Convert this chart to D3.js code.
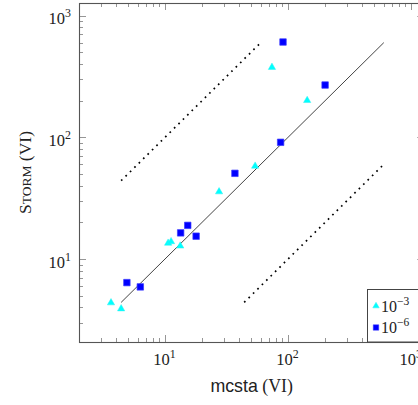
<!DOCTYPE html>
<html><head><meta charset="utf-8">
<script src="https://cdn.jsdelivr.net/npm/d3@7"></script>
<style>
html,body{margin:0;padding:0;background:#fff;}
svg{display:block;}
</style></head>
<body>
<svg id="chart" width="418" height="405"></svg>
<script>
// ---- data ----
const seriesNames = ["10^{-3}", "10^{-6}"];
const tri_x = [3.64, 4.4, 10.6, 11.2, 13.3, 27.5, 54, 143, 74];
const tri_y = [4.37, 3.9, 13.5, 13.9, 12.8, 35.7, 58, 201, 376];
const sq_x = [4.9, 6.3, 13.4, 15.3, 17.9, 37, 87, 200, 91];
const sq_y = [6.4, 5.9, 16.4, 18.9, 15.4, 50.6, 91, 269, 607];
const diagLine = [[4.4, 4.4], [600, 600]];
const upperLine = [[4.4, 44], [60, 600]];
const lowerLine = [[44, 4.4], [600, 60]];
const xMajor = [1, 2, 3];   // exponents
const yMajor = [1, 2, 3];
const legendExps = ["\u22123", "\u22126"];
const xLabel = "mcsta";
const yLabel = "Storm";

// ---- layout ----
const L = 79, R = 424.3, T = 3, B = 342;
const x = d3.scaleLog().domain([2, 1280]).range([L, R]);
const y = d3.scaleLog().domain([2.08, 1270]).range([B, T]);

const svg = d3.select("#chart");
const serif = "'Liberation Serif', 'Times New Roman', serif";
const sans = "'Liberation Sans', Arial, sans-serif";
const FS = 16.5;

// ticks
function tickVals(dom) {
  const out = [];
  for (let e = 0; e <= 3; e++) for (let m = 1; m <= 9; m++) {
    const v = m * Math.pow(10, e);
    if (v >= dom[0] && v <= dom[1]) out.push({v, major: m === 1});
  }
  return out;
}
const tg = svg.append("g").attr("stroke", "#8a8a8a").attr("stroke-width", 0.9);
tickVals(x.domain()).forEach(t => {
  const len = t.major ? 7 : 4;
  const px = Math.round(x(t.v)) + 0.5;
  tg.append("line").attr("x1", px).attr("x2", px).attr("y1", B).attr("y2", B - len);
  tg.append("line").attr("x1", px).attr("x2", px).attr("y1", T).attr("y2", T + len);
});
tickVals(y.domain()).forEach(t => {
  const len = t.major ? 7 : 4;
  const py = Math.round(y(t.v)) + 0.5;
  tg.append("line").attr("x1", L).attr("x2", L + len).attr("y1", py).attr("y2", py);
  tg.append("line").attr("x1", R).attr("x2", R - len).attr("y1", py).attr("y2", py);
});

// frame
svg.append("rect").attr("x", L + 0.5).attr("y", T + 0.5)
  .attr("width", R - L).attr("height", B - T)
  .attr("fill", "none").attr("stroke", "#555").attr("stroke-width", 1.1);

// tick labels
function powLabel(sel, exp, size) {
  sel.append("tspan").text("10");
  sel.append("tspan").attr("dy", -size * 0.42).attr("font-size", size * 0.72).text(exp);
}
xMajor.forEach(e => {
  const v = Math.pow(10, e);
  const t = svg.append("text").attr("x", x(v) - 0.5).attr("y", 365)
    .attr("text-anchor", "middle").attr("font-family", serif).attr("font-size", FS).attr("fill", "#222");
  powLabel(t, String(e), FS);
});
yMajor.forEach(e => {
  const v = Math.pow(10, e);
  const t = svg.append("text").attr("x", 71).attr("y", y(v) + 8.6)
    .attr("text-anchor", "end").attr("font-family", serif).attr("font-size", FS).attr("fill", "#222");
  powLabel(t, String(e), FS);
});

// axis labels
const xl = svg.append("text").attr("x", (L + R) / 2).attr("y", 392)
  .attr("text-anchor", "middle").attr("font-size", 17.8).attr("fill", "#222");
xl.append("tspan").attr("font-family", sans).text(xLabel);
xl.append("tspan").attr("font-family", serif).text(" (VI)");

const yl = svg.append("text").attr("transform", `translate(31,${(T + B) / 2}) rotate(-90)`)
  .attr("text-anchor", "middle").attr("font-family", serif).attr("font-size", 17.5).attr("fill", "#222");
yl.append("tspan").text(yLabel[0]);
yl.append("tspan").attr("font-size", 13.5).text(yLabel.slice(1).toUpperCase());
yl.append("tspan").text(" (VI)");

// lines
const lineGen = d3.line().x(d => x(d[0])).y(d => y(d[1]));
svg.append("path").attr("d", lineGen(diagLine)).attr("fill", "none")
  .attr("stroke", "#444").attr("stroke-width", 1);
[upperLine, lowerLine].forEach(ln => {
  svg.append("path").attr("d", lineGen(ln)).attr("fill", "none")
    .attr("stroke", "#000").attr("stroke-width", 1.7)
    .attr("stroke-dasharray", "1.7,4.5");
});

// markers
const triSym = d3.symbol().type(d3.symbolTriangle).size(23);
const sqSym = d3.symbol().type(d3.symbolSquare).size(42);
svg.append("g").selectAll("path").data(tri_x.map((v, i) => [v, tri_y[i]])).join("path")
  .attr("d", triSym).attr("transform", d => `translate(${x(d[0])},${y(d[1])})`)
  .attr("fill", "#00ffff").attr("stroke", "#33f0f0").attr("stroke-width", 0.5);
svg.append("g").selectAll("path").data(sq_x.map((v, i) => [v, sq_y[i]])).join("path")
  .attr("d", sqSym).attr("transform", d => `translate(${x(d[0])},${y(d[1])})`)
  .attr("fill", "#0000ff").attr("stroke", "#3a3aff").attr("stroke-width", 0.7);

// legend
const lg = svg.append("g");
lg.append("rect").attr("x", 367.5).attr("y", 289.5).attr("width", R - 367.5).attr("height", B - 289.5)
  .attr("fill", "#fff").attr("stroke", "#444").attr("stroke-width", 1);
const legendRows = [
  {sym: d3.symbol().type(d3.symbolTriangle).size(18), fill: "#00ffff", stroke: "#33f0f0", exp: legendExps[0], yy: 306},
  {sym: d3.symbol().type(d3.symbolSquare).size(30), fill: "#0000ff", stroke: "#3a3aff", exp: legendExps[1], yy: 327.5}
];
legendRows.forEach(r => {
  lg.append("path").attr("d", r.sym()).attr("transform", `translate(376,${r.yy})`)
    .attr("fill", r.fill).attr("stroke", r.stroke).attr("stroke-width", 0.5);
  const t = lg.append("text").attr("x", 381).attr("y", r.yy + 5.5)
    .attr("font-family", serif).attr("font-size", 16).attr("fill", "#222");
  powLabel(t, r.exp, 16);
});
</script>
</body></html>
